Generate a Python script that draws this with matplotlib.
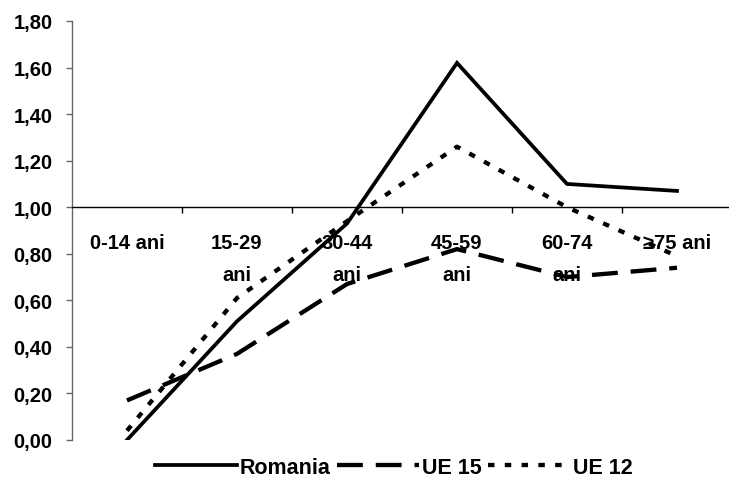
import numpy as np
import matplotlib.pyplot as plt
from matplotlib.ticker import FuncFormatter, FixedLocator

plt.rcParams['font.family'] = ['Liberation Sans', 'DejaVu Sans']
plt.rcParams['font.weight'] = 'bold'

# Age groups and values
categories = ['0-14 ani', '15-29\nani', '30-44\nani', '45-59\nani', '60-74\nani', '≥75 ani']
romania = [0.00, 0.51, 0.93, 1.62, 1.10, 1.07]
ue15 = [0.17, 0.37, 0.67, 0.82, 0.70, 0.74]
ue12 = [0.04, 0.61, 0.94, 1.26, 1.00, 0.79]

fig = plt.figure(figsize=(7.29, 4.89), dpi=100)
ax = fig.add_axes([72 / 729, 48 / 489, 660 / 729, 419 / 489])

x = np.arange(len(categories))
ax.plot(x, romania, color='black', lw=2.7, solid_joinstyle='miter', label='Romania')
ax.plot(x, ue15, color='black', lw=3.1, dashes=(6.0, 3.0), label='UE 15')
ax.plot(x, ue12, color='black', lw=3.1, dashes=(1.5, 2.4), label='UE 12')

ax.set_xlim(-0.5, 5.5)
ax.set_ylim(0, 1.8)

# Category axis crosses at 1,00 (Excel style)
ax.spines['top'].set_visible(False)
ax.spines['right'].set_visible(False)
ax.spines['bottom'].set_position(('data', 1.0))
ax.spines['bottom'].set_color('black')
ax.spines['bottom'].set_linewidth(1.0)
ax.spines['left'].set_color('#666666')
ax.spines['left'].set_linewidth(1.0)

ax.set_xticks(x)
ax.set_xticklabels(categories, fontsize=14.5, fontweight='bold', linespacing=1.85, va='top')
ax.xaxis.set_minor_locator(FixedLocator(np.arange(0.5, 5.6, 1.0)))
ax.tick_params(axis='x', which='major', length=0, pad=18.5)
ax.tick_params(axis='x', which='minor', length=4, width=1, color='black', direction='out')

ax.set_yticks(np.arange(0, 1.81, 0.2))
ax.yaxis.set_major_formatter(FuncFormatter(lambda v, p: f'{v:.2f}'.replace('.', ',')))
ax.tick_params(axis='y', length=4, width=1, color='#666666', pad=10, labelsize=14.5)
for t in ax.get_yticklabels():
    t.set_fontweight('bold')

fig.legend(loc='center', bbox_to_anchor=(394 / 729, 0.042), ncol=3, frameon=False,
           handlelength=3.8, handletextpad=0.15, columnspacing=0.3,
           prop={'weight': 'bold', 'size': 15.5})

fig.savefig('out.png', dpi=100)
